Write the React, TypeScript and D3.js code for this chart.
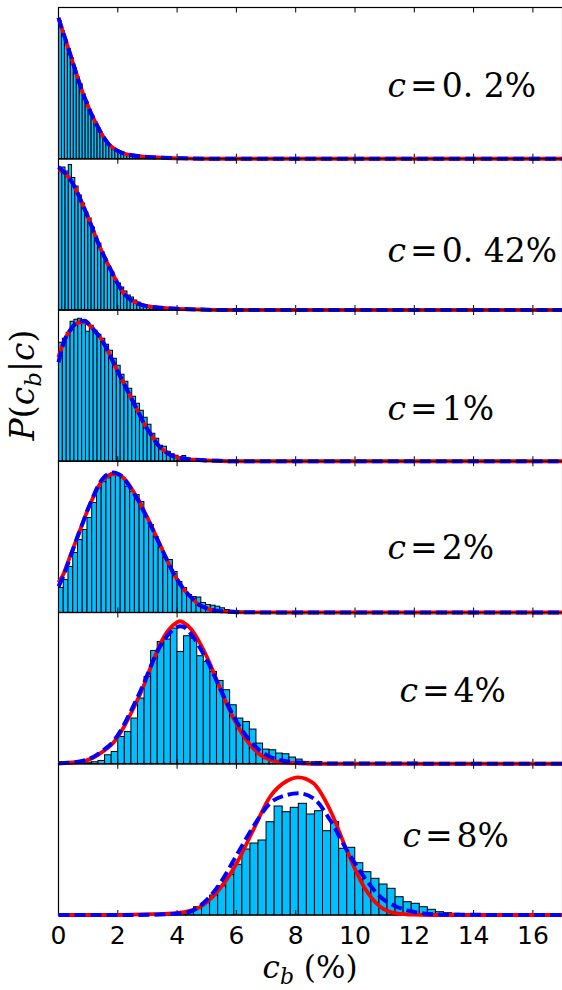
import { useEffect, useRef } from 'react';
import * as d3 from 'd3';

// size of the figure and the six stacked panels
const W = 562, H = 990;
const left = 58.5, top0 = 7.5, panelH = 151.25;
const xMax = 17;

const xTicks = [0, 2, 4, 6, 8, 10, 12, 14, 16];
const labels = ['0. 2%', '0. 42%', '1%', '2%', '4%', '8%'];

// histogram bins: start and width for each panel (50 bins each)
const binStart = [0, 0, 0, 0, 0, 2.92];
const binWidth = [0.1, 0.11, 0.13, 0.16, 0.222, 0.272];

// bar heights (same arbitrary units as the fitted curves, panel top = 151)
const hist1 = [138, 128, 119, 110, 101, 91, 82, 75, 65, 57, 49, 43, 37, 31, 25, 20, 16, 13, 11, 8.5, 7, 6, 5, 4, 3.5, 3, 2.5, 2, 1.6, 1.3, 1, 0.8, 0.7, 0.5, 0.4, 0.3, 0.3, 0.2, 0.2, 0.1, 0.1, 0.1, 0, 0.1, 0, 0, 0.1, 0, 0, 0.1];
const hist2 = [141, 143, 139, 145.5, 132.5, 124, 115, 107, 98, 92, 83, 74, 67, 58, 51, 44, 38, 31, 27, 23, 19, 15, 13, 10, 8, 6, 4.5, 3.5, 2.7, 2.1, 1.6, 1.3, 1.1, 0.9, 0.7, 0.6, 0.5, 0.4, 0.3, 0.3, 0.2, 0.2, 0.1, 0.1, 0.1, 0, 0.1, 0, 0, 0.1];
const hist3 = [119, 123, 129, 140, 142, 143, 139, 130, 136, 131, 127, 123, 117, 111, 103, 96, 87, 80, 73, 65, 58, 51, 44, 37, 28, 23, 16, 15, 10, 7.5, 6, 4.5, 5.7, 3, 2.5, 2, 1.5, 1.2, 1, 0.8, 0.6, 0.5, 0.4, 0.3, 0.3, 0.2, 0.2, 0.1, 0.1, 0.1];
const hist4 = [25, 33, 46, 60, 73, 83, 95, 110, 124.7, 131.3, 134.7, 139.7, 138, 134.7, 126.3, 121.3, 118, 111, 96, 88, 76, 65, 55, 53, 41, 31, 25, 18, 16, 15.5, 10, 8, 7.3, 6.3, 4.7, 3, 2.3, 2, 1.5, 1, 0.8, 0.6, 0.5, 0.4, 0.3, 0.2, 0.2, 0.2, 0.1, 0.1];
const hist5 = [0.3, 0.5, 0.8, 1.2, 1.6, 2, 3.3, 9, 12.3, 27.3, 32.3, 45.7, 65.7, 87.3, 113.3, 122.3, 124.7, 135.7, 112.3, 128, 125.7, 108, 102.3, 92.3, 83.3, 74, 59, 45.7, 42.3, 34.7, 20.7, 14.7, 14, 10.7, 10, 6.7, 4.7, 2.3, 1.7, 2.3, 1, 0.7, 0.5, 0.4, 0.3, 0.3, 0.2, 0.2, 0.1, 0.1];
const hist6 = [0.3, 0.5, 0.8, 1.2, 1.5, 4, 8.3, 12.3, 20, 29.3, 40.7, 50.7, 66, 72, 75, 93.3, 109, 103.3, 107.7, 111.7, 101, 104.3, 84.3, 93.3, 66.7, 67.7, 52.3, 43.3, 36.7, 31, 26.7, 18.3, 13.3, 11.7, 8.3, 5.7, 3.3, 2.3, 1.7, 1.3, 1, 0.8, 0.6, 0.5, 0.4, 0.3, 0.3, 0.2, 0.2, 0.1];

// fitted curves: x positions, red (solid) and blue (dashed) values
const fitX1 = [0, 0.11, 0.22, 0.33, 0.44, 0.56, 0.67, 0.78, 0.89, 1.0, 1.12, 1.23, 1.34, 1.46, 1.57, 1.68, 1.85, 2.02, 2.24, 2.58, 3.0, 3.5, 4.2, 5, 17];
const red1 = [141, 130.5, 120.5, 110.5, 100.5, 89, 79, 69, 60.5, 52.5, 44, 37.5, 31, 24.5, 19.5, 15, 10.7, 7.5, 5, 3, 1.8, 1, 0.4, 0, 0];
const blue1 = [141, 130.5, 120.5, 110.5, 100.5, 89, 79, 69, 60.5, 52.5, 44, 37.5, 31, 24.5, 19.5, 15, 10.7, 7.5, 5, 3, 1.8, 1, 0.4, 0, 0];

const fitX2 = [0, 0.22, 0.44, 0.67, 0.89, 1.12, 1.34, 1.57, 1.79, 2.02, 2.24, 2.47, 2.8, 3.25, 3.81, 4.6, 5.5, 17];
const red2 = [140, 136.8, 128.5, 115.2, 100.2, 83.5, 66.8, 51.8, 38.5, 25.2, 15.2, 9.5, 5.2, 2.8, 1.5, 0.6, 0, 0];
const blue2 = [143, 137, 128.5, 115.2, 100.2, 83.5, 66.8, 51.8, 38.5, 25.2, 15.2, 9.5, 5.2, 2.8, 1.5, 0.6, 0, 0];

const fitX3 = [0, 0.11, 0.22, 0.39, 0.56, 0.72, 0.89, 1.06, 1.23, 1.4, 1.57, 1.74, 1.9, 2.07, 2.24, 2.41, 2.58, 2.75, 2.92, 3.09, 3.25, 3.42, 3.59, 3.76, 3.93, 4.15, 4.6, 5.3, 6, 17];
const red3 = [104, 114, 122.3, 130.7, 136.7, 139, 139, 135.7, 130, 124, 115.7, 105.7, 95.7, 85.7, 75.7, 65.7, 55.7, 45.7, 35.7, 28, 20.7, 14, 10, 6.5, 4.5, 3, 1.5, 0.5, 0, 0];
const blue3 = [99, 112, 122, 131, 137.5, 140, 140.5, 136, 130, 124, 115.7, 105.7, 95.7, 85.7, 75.7, 65.7, 55.7, 45.7, 35.7, 28, 20.7, 14, 10, 6.5, 4.5, 3, 1.5, 0.5, 0, 0];

const fitX4 = [0, 0.16, 0.33, 0.5, 0.67, 0.84, 1.0, 1.18, 1.34, 1.51, 1.68, 1.85, 2.02, 2.19, 2.35, 2.52, 2.69, 2.86, 3.03, 3.2, 3.37, 3.54, 3.7, 3.87, 4.04, 4.21, 4.38, 4.55, 4.72, 4.89, 5.05, 5.28, 5.73, 6.4, 7.5, 17];
const red4 = [30, 38, 51.3, 64.7, 78, 91.3, 103.7, 115.7, 125.7, 133, 137, 138.5, 138, 134.7, 129, 121.3, 113, 103, 93, 82.3, 71.3, 60.3, 49.7, 39.7, 31.3, 23.7, 18, 13, 8, 5.5, 3.5, 2, 0.7, 0.2, 0, 0];
const blue4 = [26, 36, 50, 64, 78, 91.3, 104, 116.5, 127, 134.5, 138.5, 140, 138.5, 134.7, 128, 120, 112, 102, 92, 81.5, 70.5, 60, 49.7, 39.7, 31.3, 23.7, 18, 13, 8, 5.5, 3.5, 2, 0.7, 0.2, 0, 0];

const fitX5 = [0, 0.61, 1.17, 1.51, 1.85, 2.19, 2.52, 2.86, 3.14, 3.42, 3.7, 3.99, 4.1, 4.21, 4.49, 4.77, 5.05, 5.33, 5.61, 5.9, 6.18, 6.46, 6.8, 7.13, 7.58, 8.1, 9, 17];
const red5 = [0.5, 1.5, 6, 12.5, 21, 36, 55, 77, 99, 119, 133.3, 141.3, 142.5, 141.3, 134, 120.7, 104, 84, 64, 45.7, 30.7, 19, 9, 4, 1.5, 0.5, 0, 0];
const blue5 = [0.5, 1.7, 6.8, 13.5, 22.5, 38, 57.5, 79, 99.5, 117, 129, 136.5, 137.5, 137, 129, 116, 101, 83, 65, 48, 34, 23, 13, 7, 3, 1.2, 0.3, 0];

const fitX6 = [0, 2, 3.2, 3.8, 4.32, 4.88, 5.45, 6.01, 6.57, 7.13, 7.7, 8.09, 8.6, 9.16, 9.72, 10.3, 10.85, 11.4, 11.97, 12.5, 13.5, 17];
const red6 = [0, 0, 0.8, 1.5, 3.3, 10, 26.7, 51.7, 85, 118, 134, 137.7, 131.7, 105, 65, 28.3, 8.3, 1.7, 0.3, 0, 0, 0];
const blue6 = [0, 0, 0.3, 1, 2.3, 11.7, 31.7, 60, 88.3, 111.7, 120, 121.7, 116.7, 95, 65, 38.3, 18.3, 8.3, 3.3, 1, 0.2, 0];

const yTop = [151.25, 151.25, 151.25, 151.25, 151.25, 151.25];

// where each "c = ..." label sits (data x of its left edge, px below panel top of its baseline)
const labelX = [11.1, 11.1, 11.1, 11.1, 11.5, 11.6];
const labelDy = [89.5, 103, 110, 97.5, 89.5, 83.5];

const hists = [hist1, hist2, hist3, hist4, hist5, hist6];
const fitXs = [fitX1, fitX2, fitX3, fitX4, fitX5, fitX6];
const reds = [red1, red2, red3, red4, red5, red6];
const blues = [blue1, blue2, blue3, blue4, blue5, blue6];

const serif = "DejaVu Serif";

function App() {
  const node = useRef<SVGSVGElement>(null);

  useEffect(() => {
    if (!node.current) return;
    const svg = d3.select(node.current);
    svg.selectAll('*').remove();

    const x = d3.scaleLinear().domain([0, xMax]).range([left, left + xMax * 29.65]);

    hists.forEach((hist, i) => {
      const top = top0 + i * panelH;
      const bottom = top + panelH;
      const y = d3.scaleLinear().domain([0, yTop[i]]).range([bottom, top]);
      const g = svg.append('g');

      g.selectAll('rect.bar')
        .data(hist)
        .enter()
        .append('rect')
        .attr('class', 'bar')
        .attr('x', (_, k) => x(binStart[i] + k * binWidth[i]))
        .attr('width', (_, k) => x(binStart[i] + (k + 1) * binWidth[i]) - x(binStart[i] + k * binWidth[i]))
        .attr('y', d => y(d))
        .attr('height', d => bottom - y(d))
        .attr('fill', '#00bfff')
        .attr('stroke', '#000')
        .attr('stroke-width', 1);

      // frame
      g.append('rect')
        .attr('x', x(0)).attr('y', top)
        .attr('width', x(xMax) - x(0)).attr('height', panelH)
        .attr('fill', 'none').attr('stroke', '#000').attr('stroke-width', 1.2);

      // inward ticks, bottom and top
      g.selectAll('line.tb').data(xTicks).enter().append('line')
        .attr('x1', d => x(d)).attr('x2', d => x(d))
        .attr('y1', bottom).attr('y2', bottom - 5)
        .attr('stroke', '#000').attr('stroke-width', 1);
      g.selectAll('line.tt').data(xTicks).enter().append('line')
        .attr('x1', d => x(d)).attr('x2', d => x(d))
        .attr('y1', top).attr('y2', top + 5)
        .attr('stroke', '#000').attr('stroke-width', 1);

      const pts = (vals: number[]) => fitXs[i].map((xv, k) => [xv, vals[k]] as [number, number]);
      const line = d3.line<[number, number]>()
        .x(d => x(d[0]))
        .y(d => y(d[1]))
        .curve(d3.curveMonotoneX);

      g.append('path').datum(pts(reds[i])).attr('d', line)
        .attr('fill', 'none').attr('stroke', '#ff0000').attr('stroke-width', 3.8);
      g.append('path').datum(pts(blues[i])).attr('d', line)
        .attr('fill', 'none').attr('stroke', '#0000ff').attr('stroke-width', 4)
        .attr('stroke-dasharray', '11,5');

      const t = g.append('text')
        .attr('x', x(labelX[i])).attr('y', top + labelDy[i])
        .attr('font-family', serif).attr('font-size', 33).attr('fill', '#000');
      t.append('tspan').attr('font-style', 'italic').text('c');
      t.append('tspan').attr('dx', 4).text('=');
      t.append('tspan').attr('dx', 4).text(labels[i]);
    });

    const bottomY = top0 + 6 * panelH;

    // tick labels
    svg.selectAll('text.tick').data(xTicks).enter().append('text')
      .attr('class', 'tick')
      .attr('x', d => x(d)).attr('y', bottomY + 29)
      .attr('text-anchor', 'middle')
      .attr('font-family', "'DejaVu Sans', sans-serif").attr('font-size', 25)
      .text(d => d);

    // x label
    const xl = svg.append('text')
      .attr('x', 310).attr('y', 978).attr('text-anchor', 'middle')
      .attr('font-family', serif).attr('font-size', 31);
    xl.append('tspan').attr('font-style', 'italic').text('c');
    xl.append('tspan').attr('font-style', 'italic').attr('font-size', 22).attr('dy', 6).text('b');
    xl.append('tspan').attr('dy', -6).text(' (%)');

    // y label
    const yl = svg.append('text')
      .attr('transform', 'translate(34,385) rotate(-90)')
      .attr('text-anchor', 'middle')
      .attr('font-family', serif).attr('font-size', 33);
    yl.append('tspan').attr('font-style', 'italic').text('P');
    yl.append('tspan').text('(');
    yl.append('tspan').attr('font-style', 'italic').text('c');
    yl.append('tspan').attr('font-style', 'italic').attr('font-size', 23).attr('dy', 7).text('b');
    yl.append('tspan').attr('dy', -7).text('|');
    yl.append('tspan').attr('font-style', 'italic').text('c');
    yl.append('tspan').text(')');
  }, [node]);

  return (
    <svg ref={node} width={W} height={H}
      style={{ position: 'absolute', left: 0, top: 0, background: '#fff' }} />
  );
}

export default App;
